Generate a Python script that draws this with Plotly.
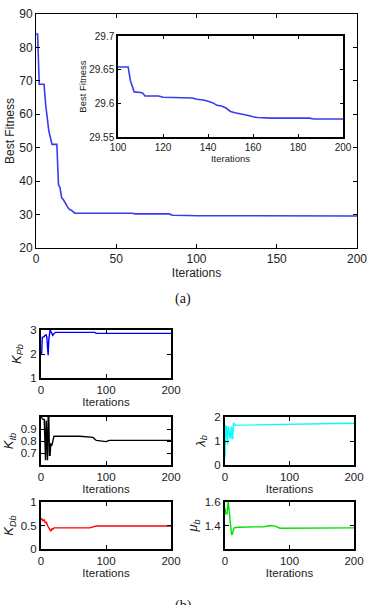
import plotly.graph_objects as go

# ---------------- data ----------------
main_iter = [0, 1, 2, 5, 6, 7, 8, 9, 10, 13, 14, 15, 16, 17, 18, 19, 20, 21, 22, 24, 25, 60, 62, 83, 85, 95, 100, 200]
main_fit = [84, 84, 69, 69, 63, 58, 55, 53, 51, 51, 39, 38, 35, 34.5, 33.5, 33, 32, 31.5, 31.3, 30.5, 30.4, 30.4, 30.2, 30.2, 29.8, 29.7, 29.655, 29.58]

inset_iter = [100, 104.5, 105.5, 107.2, 110, 111, 112, 118, 120, 130, 133, 135, 138, 140, 142, 144, 146, 148, 150, 152, 155, 158, 160, 162, 168, 185, 187, 200]
inset_fit = [29.654, 29.654, 29.634, 29.617, 29.616, 29.615, 29.611, 29.611, 29.609, 29.609, 29.608, 29.606, 29.605, 29.603, 29.601, 29.597, 29.596, 29.593, 29.588, 29.586, 29.5845, 29.582, 29.580, 29.579, 29.578, 29.578, 29.5768, 29.5768]

kpb_iter = [0, 1, 2, 5, 6, 8, 9, 10, 11, 12, 13, 14, 16, 18, 20, 22, 83, 85, 200]
kpb_val = [2.0, 2.0, 2.7, 2.72, 2.78, 2.8, 2.7, 1.95, 1.95, 2.6, 2.98, 3.0, 2.9, 2.78, 2.85, 2.9, 2.9, 2.86, 2.86]

kib_iter = [0, 1, 3, 5, 6, 7, 8, 9, 10, 11, 12, 13, 14, 15, 16, 17, 18, 20, 60, 70, 80, 85, 95, 100, 105, 200]
kib_val = [1.0, 0.99, 0.98, 0.98, 0.65, 0.64, 0.97, 0.65, 0.64, 1.0, 1.0, 0.68, 0.68, 0.78, 0.76, 0.77, 0.80, 0.84, 0.84, 0.835, 0.83, 0.805, 0.80, 0.795, 0.805, 0.805]

lam_iter = [0, 1, 2, 3, 4, 5, 6, 7, 8, 9, 10, 11, 12, 13, 14, 16, 20, 60, 100, 200]
lam_val = [0.3, 1.65, 1.6, 1.2, 0.85, 1.6, 1.5, 1.3, 1.1, 1.5, 1.6, 1.1, 1.1, 1.75, 1.72, 1.65, 1.66, 1.68, 1.72, 1.74]

kdb_iter = [0, 1, 3, 5, 7, 8, 10, 12, 14, 15, 17, 18, 20, 75, 80, 85, 200]
kdb_val = [0.62, 0.65, 0.6, 0.62, 0.55, 0.58, 0.5, 0.45, 0.4, 0.38, 0.43, 0.42, 0.45, 0.45, 0.47, 0.49, 0.49]

mu_iter = [0, 1, 3, 4, 5, 6, 8, 10, 11, 14, 20, 60, 70, 78, 85, 145, 150, 200]
mu_val = [1.55, 1.5, 1.5, 1.6, 1.6, 1.55, 1.42, 1.33, 1.32, 1.38, 1.385, 1.39, 1.40, 1.395, 1.377, 1.377, 1.38, 1.38]

W, H = 367, 605


def px_x(a, b):
    return [a / W, b / W]


def px_y(top, bottom):
    return [1 - bottom / H, 1 - top / H]


FONT = "Liberation Sans, Arial, sans-serif"

fig = go.Figure()

fig.add_trace(go.Scatter(x=main_iter, y=main_fit, mode="lines", line=dict(color="#3a3af0", width=1.6),
                         xaxis="x", yaxis="y", showlegend=False))
fig.add_trace(go.Scatter(x=inset_iter, y=inset_fit, mode="lines", line=dict(color="#3a3af0", width=1.6),
                         xaxis="x2", yaxis="y2", showlegend=False))
fig.add_trace(go.Scatter(x=kpb_iter, y=kpb_val, mode="lines", line=dict(color="#0000ff", width=1.4),
                         xaxis="x3", yaxis="y3", showlegend=False))
fig.add_trace(go.Scatter(x=kib_iter, y=kib_val, mode="lines", line=dict(color="#000000", width=1.4),
                         xaxis="x4", yaxis="y4", showlegend=False))
fig.add_trace(go.Scatter(x=lam_iter, y=lam_val, mode="lines", line=dict(color="#00ffff", width=1.4),
                         xaxis="x5", yaxis="y5", showlegend=False))
fig.add_trace(go.Scatter(x=kdb_iter, y=kdb_val, mode="lines", line=dict(color="#ff0000", width=1.4),
                         xaxis="x6", yaxis="y6", showlegend=False))
fig.add_trace(go.Scatter(x=mu_iter, y=mu_val, mode="lines", line=dict(color="#00e000", width=1.4),
                         xaxis="x7", yaxis="y7", showlegend=False))


def ax(domain, rng, tickvals, ticktext=None, title=None, anchor=None, lw=1, fs=11.5, tfs=11.5, standoff=4, ticklen=4):
    d = dict(domain=domain, range=rng, tickvals=tickvals, showgrid=False, zeroline=False,
             showline=True, linecolor="black", linewidth=lw, mirror="ticks", ticks="inside",
             ticklen=ticklen, tickcolor="black", tickwidth=1, automargin=False,
             ticklabeloverflow="allow",
             tickfont=dict(family=FONT, size=fs, color="#222"), anchor=anchor)
    if ticktext is not None:
        d["ticktext"] = ticktext
    if title is not None:
        d["title"] = dict(text=title, font=dict(family=FONT, size=tfs, color="#222"), standoff=standoff)
    return d


layout = dict(
    width=W, height=H, margin=dict(l=0, r=0, t=0, b=0, autoexpand=False),
    paper_bgcolor="white", plot_bgcolor="white", showlegend=False,
    xaxis=ax(px_x(36, 357), [0, 200], [0, 50, 100, 150, 200], title="Iterations", anchor="y", fs=12, tfs=12, standoff=3),
    yaxis=ax(px_y(14, 248), [20, 90], [20, 30, 40, 50, 60, 70, 80, 90], title="Best Fitness", anchor="x", fs=12, tfs=12, standoff=2),
    xaxis2=ax(px_x(118, 343), [100, 200], [100, 120, 140, 160, 180, 200], title="Iterations", anchor="y2", lw=1.5, fs=10, tfs=9.5, standoff=3, ticklen=3),
    yaxis2=ax(px_y(36, 137), [29.55, 29.7], [29.55, 29.6, 29.65, 29.7], ["29.55", "29.6", "29.65", "29.7"],
              title="Best Fitness", anchor="x2", lw=1.5, fs=10, tfs=9.5, standoff=1, ticklen=3),
    xaxis3=ax(px_x(41, 171), [0, 200], [0, 100, 200], title="Iterations", anchor="y3", lw=2, standoff=2),
    yaxis3=ax(px_y(330, 378), [1, 3], [1, 2, 3], title="<i>K<sub>Pb</sub></i>", anchor="x3", lw=2, tfs=13, standoff=6),
    xaxis4=ax(px_x(41, 171), [0, 200], [0, 100, 200], title="Iterations", anchor="y4", lw=2, standoff=2),
    yaxis4=ax(px_y(417, 465), [0.6, 1.0], [0.7, 0.8, 0.9], title="<i>K<sub>Ib</sub></i>", anchor="x4", lw=2, tfs=13, standoff=4),
    xaxis5=ax(px_x(225, 354), [0, 200], [0, 100, 200], title="Iterations", anchor="y5", lw=2, standoff=2),
    yaxis5=ax(px_y(417, 465), [0, 2], [0, 1, 2], title="<i>λ<sub>b</sub></i>", anchor="x5", lw=2, tfs=13, standoff=6),
    xaxis6=ax(px_x(41, 171), [0, 200], [0, 100, 200], title="Iterations", anchor="y6", lw=2, standoff=2),
    yaxis6=ax(px_y(502, 549), [0, 1], [0, 0.5, 1], title="<i>K<sub>Db</sub></i>", anchor="x6", lw=2, tfs=13, standoff=4),
    xaxis7=ax(px_x(225, 354), [0, 200], [0, 100, 200], title="Iterations", anchor="y7", lw=2, standoff=2),
    yaxis7=ax(px_y(502, 549), [1.2, 1.6], [1.4, 1.6], title="<i>μ<sub>b</sub></i>", anchor="x7", lw=2, tfs=13, standoff=4),
    annotations=[
        dict(text="(a)", x=183 / W, y=1 - 289 / H, xref="paper", yref="paper", xanchor="center", yanchor="top",
             showarrow=False, font=dict(family="Liberation Serif, Times New Roman, serif", size=14, color="#111")),
        dict(text="(b)", x=183 / W, y=1 - 596 / H, xref="paper", yref="paper", xanchor="center", yanchor="top",
             showarrow=False, font=dict(family="Liberation Serif, Times New Roman, serif", size=14, color="#111")),
    ],
)
fig.update_layout(**layout)
fig.write_html("out.html")
